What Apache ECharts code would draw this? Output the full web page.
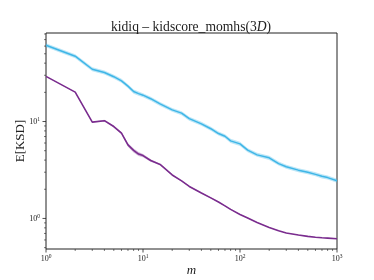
<!DOCTYPE html>
<html><head><meta charset="utf-8">
<script src="https://cdn.jsdelivr.net/npm/echarts@6/dist/echarts.min.js"></script>
<style>html,body{margin:0;padding:0;background:#fff}#c{width:374px;height:280px}</style>
</head><body><div id="c"></div>
<script>
const mValues = [1,2,3,4,5,6,7,8,9,10,12,15,20,25,30,40,50,60,70,80,100,120,150,200,250,300,400,500,600,700,800,1000];
const blueMean = [61.2,47.2,34.6,32.0,29.0,26.3,23.2,20.4,19.4,18.7,17.2,15.2,13.2,12.2,10.7,9.47,8.43,7.52,7.05,6.32,5.88,5.06,4.53,4.22,3.68,3.42,3.15,2.99,2.85,2.72,2.64,2.45];
const blueLow  = [58.3,45.0,33.0,30.5,27.6,25.1,22.1,19.4,18.5,17.8,16.4,14.5,12.6,11.6,10.2,9.02,8.03,7.17,6.72,6.02,5.60,4.82,4.32,4.02,3.51,3.26,3.00,2.85,2.72,2.59,2.52,2.34];
const blueHigh = [64.2,49.5,36.3,33.6,30.4,27.6,24.3,21.4,20.4,19.6,18.0,15.9,13.8,12.8,11.2,9.93,8.84,7.89,7.40,6.63,6.17,5.31,4.75,4.43,3.86,3.59,3.30,3.14,2.99,2.85,2.77,2.57];
const purpleMean = [29.2,20.1,9.86,10.2,8.88,7.59,5.74,5.04,4.62,4.45,3.96,3.61,2.81,2.44,2.14,1.83,1.63,1.48,1.35,1.24,1.10,1.01,0.909,0.807,0.746,0.708,0.675,0.653,0.641,0.632,0.627,0.618];
const purpleLow  = [29.0,19.9,9.75,10.0,8.70,7.40,5.50,4.80,4.40,4.28,3.85,3.55,2.77,2.41,2.11,1.81,1.61,1.465,1.34,1.23,1.09,1.00,0.902,0.801,0.741,0.703,0.671,0.649,0.637,0.628,0.623,0.614];
const purpleHigh = [29.4,20.3,9.97,10.4,9.06,7.78,5.98,5.28,4.84,4.62,4.07,3.67,2.85,2.47,2.17,1.85,1.65,1.495,1.36,1.25,1.11,1.02,0.916,0.813,0.751,0.713,0.679,0.657,0.645,0.636,0.631,0.622];
const xMajorTicks = [1,10,100,1000];
const yMajorTicks = [1,10];
const xMinorTicks = [2,3,4,5,6,7,8,9,20,30,40,50,60,70,80,90,200,300,400,500,600,700,800,900];
const yMinorTicks = [0.5,0.6,0.7,0.8,0.9,2,3,4,5,6,7,8,9,20,30,40,50,60,70,80];
const xRange = [1,1000];
const yRange = [0.484,81.9];

const L = Math.log10;
const XMIN = L(xRange[0]), XMAX = L(xRange[1]), YMIN = L(yRange[0]), YMAX = L(yRange[1]);
const pts = (ys) => mValues.map((m,i)=>[L(m), L(ys[i])]);
const BLUE = '#3fb6e7', PURPLE = '#7a2c8e';
const FONT = 'Liberation Serif';

const tickData = [];
xMajorTicks.forEach(v=>tickData.push([L(v),1,0]));
xMinorTicks.forEach(v=>tickData.push([L(v),0,0]));
yMajorTicks.forEach(v=>tickData.push([L(v),1,1]));
yMinorTicks.forEach(v=>tickData.push([L(v),0,1]));

function band(lo, hi, color) {
  const data = mValues.map((m,i)=>[L(m), L(lo[i]), L(hi[i])]);
  return {type:'custom', data:data, silent:true, z:1, clip:true,
    encode:{x:0, y:[1,2]},
    renderItem:function(params, api){
      if (params.dataIndex !== 0) return null;
      const up = data.map(d=>api.coord([d[0], d[2]]));
      const dn = data.map(d=>api.coord([d[0], d[1]])).reverse();
      return {type:'polygon', shape:{points: up.concat(dn)}, style:{fill:color, opacity:0.35}};
    }};
}
const isInt = v => Math.abs(v - Math.round(v)) < 1e-6;
const fmt = v => isInt(v) ? '{b|10}{s|' + Math.round(v) + '}' : '';
const richLbl = {b:{fontFamily:FONT,fontSize:8,color:'#222'}, s:{fontFamily:FONT,fontSize:5.5,color:'#222',verticalAlign:'top',padding:[0,0,4,0]}};

const chart = echarts.init(document.getElementById('c'), null, {renderer:'canvas'});
chart.setOption({
  animation:false,
  backgroundColor:'#fff',
  title:{text:'{a|kidiq – kidscore_momhs(3}{i|D}{a|)}', left:106, top:15,
    textStyle:{fontWeight:'normal', rich:{a:{fontFamily:FONT,fontSize:13.6,fontWeight:'normal',color:'#222'}, i:{fontFamily:FONT,fontSize:13.6,fontWeight:'normal',fontStyle:'italic',color:'#222'}}}},
  grid:{left:46, top:33, width:291, height:216, containLabel:false, outerBoundsMode:'none',
    show:true, borderColor:'#222', borderWidth:1, backgroundColor:'transparent'},
  xAxis:{type:'value', min:XMIN, max:XMAX, interval:1, axisLine:{show:false}, axisTick:{show:false}, splitLine:{show:false},
    axisLabel:{formatter:fmt, rich:richLbl, margin:5},
    name:'m', nameLocation:'middle', nameGap:15, nameMoveOverlap:false,
    nameTextStyle:{fontFamily:FONT, fontSize:13, fontStyle:'italic', color:'#222'}},
  yAxis:{type:'value', min:YMIN, max:YMAX, axisLine:{show:false}, axisTick:{show:false}, splitLine:{show:false},
    axisLabel:{formatter:fmt, rich:richLbl, margin:6, showMinLabel:false, showMaxLabel:false},
    name:'E[KSD]', nameLocation:'middle', nameGap:19, nameRotate:90, nameMoveOverlap:false,
    nameTextStyle:{fontFamily:FONT, fontSize:13, color:'#222'}},
  series:[
    band(blueLow, blueHigh, BLUE),
    band(purpleLow, purpleHigh, PURPLE),
    {type:'line', data:pts(blueMean), symbol:'none', lineStyle:{color:BLUE, width:1.5}, z:3, silent:true},
    {type:'line', data:pts(purpleMean), symbol:'none', lineStyle:{color:PURPLE, width:1.6}, z:3, silent:true},
    {type:'custom', data:tickData, clip:false, silent:true, z:5,
     renderItem:function(params, api){
       const v = api.value(0), major = api.value(1), axis = api.value(2);
       const len = major ? 3.5 : 2;
       let x1,y1,x2,y2;
       if (axis === 0) { const p = api.coord([v, YMIN]); x1=p[0]; y1=p[1]; x2=p[0]; y2=p[1]+len; }
       else { const p = api.coord([XMIN, v]); x1=p[0]-len; y1=p[1]; x2=p[0]; y2=p[1]; }
       return {type:'line', shape:{x1,y1,x2,y2}, style:{stroke:'#222', lineWidth: major?0.8:0.6}};
     }}
  ]
});
</script></body></html>
